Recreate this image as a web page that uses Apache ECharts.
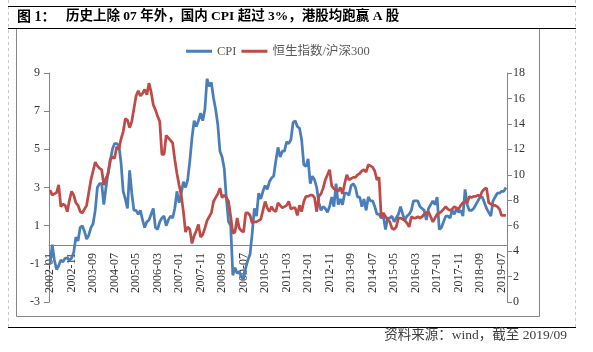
<html>
<head>
    <meta http-equiv="content-type" content="text/html; charset=utf-8">
    <title>CPI vs HSI/CSI300</title>
    <script src="https://cdn.jsdelivr.net/npm/echarts@6/dist/echarts.min.js"></script>
    <style>
        body { margin: 0; background: #fff; }
        #chart { width: 593px; height: 352px; }
    </style>
</head>
<body>
    <div id="chart"></div>
    <script type="text/javascript">
        // CPI YoY (%), monthly 2002-01 .. 2019-09
        var cpi = [
            -1.0, 0.0, -0.8, -1.3, -1.1, -0.8, -0.9, -0.7, -0.7, -0.8, -0.7, -0.4,
            0.4, 0.2, 0.9, 1.0, 0.7, 0.3, 0.5, 0.9, 1.1, 1.8, 3.0, 3.2,
            3.2, 2.1, 3.0, 3.8, 4.4, 5.0, 5.3, 5.3, 5.2, 4.3, 2.8, 2.4,
            1.9, 3.9, 2.7, 1.8, 1.8, 1.6, 1.8, 1.3, 0.9, 1.2, 1.3, 1.6,
            1.9, 0.9, 0.8, 1.2, 1.4, 1.5, 1.0, 1.3, 1.5, 1.4, 1.9, 2.8,
            2.2, 2.7, 3.3, 3.0, 3.4, 4.4, 5.6, 6.5, 6.2, 6.5, 6.9, 6.5,
            7.1, 8.7, 8.3, 8.5, 7.7, 7.1, 6.3, 4.9, 4.6, 4.0, 2.4, 1.2,
            1.0, -1.6, -1.2, -1.5, -1.4, -1.7, -1.8, -1.2, -0.8, -0.5, 0.6, 1.9,
            1.5, 2.7, 2.4, 2.8, 3.1, 2.9, 3.3, 3.5, 3.6, 4.4, 5.1, 4.6,
            4.9, 4.9, 5.4, 5.3, 5.5, 6.4, 6.5, 6.2, 6.1, 5.5, 4.2, 4.1,
            4.5, 3.2, 3.6, 3.4, 3.0, 2.2, 1.8, 2.0, 1.9, 1.7, 2.0, 2.5,
            2.0, 3.2, 2.1, 2.4, 2.1, 2.7, 2.7, 2.6, 3.1, 3.2, 3.0, 2.5,
            2.5, 2.0, 2.4, 1.8, 2.5, 2.3, 2.3, 2.0, 1.6, 1.6, 1.4, 1.5,
            0.8, 1.4, 1.4, 1.5, 1.2, 1.4, 1.6, 2.0, 1.6, 1.3, 1.5, 1.6,
            1.8, 2.3, 2.3, 2.3, 2.0, 1.9, 1.8, 1.3, 1.9, 2.1, 2.3, 2.1,
            2.5, 0.8, 0.9, 1.2, 1.5, 1.5, 1.4, 1.8, 1.6, 1.9, 1.7, 1.8,
            1.5, 2.9, 2.1, 1.8, 1.8, 1.9, 2.1, 2.3, 2.5, 2.5, 2.2, 1.9,
            1.7, 1.5, 2.3, 2.5, 2.7, 2.7, 2.8, 2.8, 3.0
        ];
        // 恒生指数/沪深300
        var ratio = [
            8.8, 8.4, 8.5, 8.6, 9.2, 7.5, 7.7, 7.6, 7.1, 8.0, 8.7, 8.4,
            7.8, 7.6, 7.1, 7.0, 7.3, 7.6, 8.6, 9.6, 10.3, 11.0, 10.7, 10.5,
            10.4, 9.2, 9.7, 10.1, 11.2, 11.4, 11.3, 12.2, 12.0, 12.8, 13.4, 14.4,
            14.3, 13.7, 14.2, 15.2, 16.2, 16.6, 16.2, 16.4, 16.7, 16.3, 17.2, 16.5,
            15.5, 15.1, 14.6, 14.2, 11.6, 11.6, 13.1, 12.9, 12.7, 12.5, 11.2, 10.1,
            9.2, 8.4, 7.1, 5.5, 5.9, 5.7, 4.6, 5.2, 5.6, 6.1, 5.1, 5.3,
            5.8, 6.4, 6.7, 7.0, 7.9, 8.2, 8.5, 8.95, 8.2, 8.4, 8.2, 7.9,
            6.7, 5.4, 5.5, 6.6, 5.8, 5.6, 5.5, 7.0, 7.0, 6.8, 6.2, 6.3,
            6.3, 6.4, 6.5, 7.2, 7.9, 7.4, 7.1, 7.5, 7.2, 7.1, 7.8, 7.6,
            7.4, 7.5, 7.6, 7.9, 7.3, 7.4, 7.4, 6.8, 7.6, 7.1, 7.9, 8.3,
            8.3, 8.4, 8.4, 8.2, 7.1, 8.3, 8.5, 8.95, 9.6, 10.0, 10.4, 9.1,
            8.9, 8.8, 8.7, 9.0, 8.5, 9.3, 10.0, 9.6, 9.7, 9.8, 9.8, 10.0,
            10.1, 10.3, 10.4, 10.2, 10.8, 10.7, 10.6, 10.3, 9.6, 9.8, 6.7, 7.0,
            6.7, 6.5, 6.3, 5.8, 5.7, 5.9, 6.6, 6.6, 6.5, 6.4, 6.2, 5.9,
            6.7, 6.6, 6.6, 6.7, 6.6, 6.7, 6.9, 7.0, 7.1, 6.7, 6.3, 6.6,
            6.9, 7.0, 7.1, 7.3, 7.5, 7.3, 7.2, 7.3, 7.5, 7.4, 7.3, 7.6,
            7.8, 7.9, 7.8, 8.3, 8.2, 8.3, 8.3, 8.4, 8.3, 8.7, 8.9, 8.95,
            7.8, 7.7, 7.6, 7.6, 7.5, 7.3, 6.8, 6.8, 6.8
        ];
        var months = [];
        for (var y = 2002; y <= 2019; y++) {
            for (var m = 1; m <= 12; m++) {
                if (months.length < cpi.length) months.push(y + '-' + (m < 10 ? '0' + m : m));
            }
        }

        var serif = '"Liberation Serif", "Noto Sans CJK SC", serif';
        var axisColor = '#868686';
        var labelColor = '#333';

        var chart = echarts.init(document.getElementById('chart'));
        chart.setOption({
            animation: false,
            textStyle: { fontFamily: serif },
            grid: { left: 49, right: 86, top: 73, bottom: 50 },
            legend: {
                left: 181, top: 40,
                icon: 'rect', itemWidth: 26, itemHeight: 3, itemGap: 5,
                textStyle: { fontFamily: serif, fontSize: 12.5, color: '#595959' },
                data: ['CPI', '恒生指数/沪深300']
            },
            xAxis: {
                type: 'category',
                data: months,
                boundaryGap: true,
                // sit the axis on the left axis' zero line (3 of 12 units up from the bottom)
                offset: -57,
                axisLine: { onZero: false, lineStyle: { color: axisColor } },
                axisTick: { interval: 9, alignWithLabel: true, length: 4, lineStyle: { color: axisColor } },
                axisLabel: { interval: 9, rotate: 90, margin: 8, fontSize: 12, color: labelColor, fontFamily: serif },
                splitLine: { show: false }
            },
            yAxis: [{
                type: 'value', min: -3, max: 9, interval: 2,
                axisLine: { show: true, lineStyle: { color: axisColor } },
                axisTick: { show: true, length: 5, lineStyle: { color: axisColor } },
                axisLabel: { margin: 9, fontSize: 12, color: labelColor, fontFamily: serif },
                splitLine: { show: false }
            }, {
                type: 'value', min: 0, max: 18, interval: 2,
                axisLine: { show: true, lineStyle: { color: axisColor } },
                axisTick: { show: true, length: 5, lineStyle: { color: axisColor } },
                axisLabel: { margin: 6, fontSize: 12, color: labelColor, fontFamily: serif },
                splitLine: { show: false }
            }],
            series: [{
                name: 'CPI', type: 'line', yAxisIndex: 0, data: cpi,
                symbol: 'none', lineStyle: { width: 2.75, color: '#4A7EBB' }, itemStyle: { color: '#4A7EBB' }
            }, {
                name: '恒生指数/沪深300', type: 'line', yAxisIndex: 1, data: ratio,
                symbol: 'none', lineStyle: { width: 2.75, color: '#BE4B48' }, itemStyle: { color: '#BE4B48' }
            }],
            graphic: [
                { type: 'line', shape: { x1: 8.5, y1: 0, x2: 8.5, y2: 330 }, style: { stroke: '#c8c8c8', lineDash: [3, 3], lineWidth: 1 } },
                { type: 'line', shape: { x1: 575.5, y1: 0, x2: 575.5, y2: 330 }, style: { stroke: '#c8c8c8', lineDash: [3, 3], lineWidth: 1 } },
                { type: 'line', shape: { x1: 8, y1: 6.5, x2: 576, y2: 6.5 }, style: { stroke: '#000', lineWidth: 1 } },
                { type: 'rect', shape: { x: 16.5, y: 28.5, width: 523, height: 288 }, style: { fill: 'none', stroke: axisColor, lineWidth: 1 } },
                { type: 'line', shape: { x1: 8, y1: 28.5, x2: 576, y2: 28.5 }, style: { stroke: '#000', lineWidth: 1 } },
                { type: 'line', shape: { x1: 8, y1: 327.5, x2: 576, y2: 327.5 }, style: { stroke: '#000', lineWidth: 1 } },
                { type: 'text', left: 17, top: 10, style: { text: '图 1：', font: 'bold 14px ' + serif, fill: '#000' } },
                { type: 'text', left: 66, top: 10, style: { text: '历史上除 07 年外，国内 CPI 超过 3%，港股均跑赢 A 股', font: 'bold 13.5px ' + serif, fill: '#000' } },
                { type: 'text', right: 26, top: 329, style: { text: '资料来源：wind，截至 2019/09', font: '13.5px ' + serif, fill: '#404040' } }
            ]
        });
    </script>
</body>
</html>
